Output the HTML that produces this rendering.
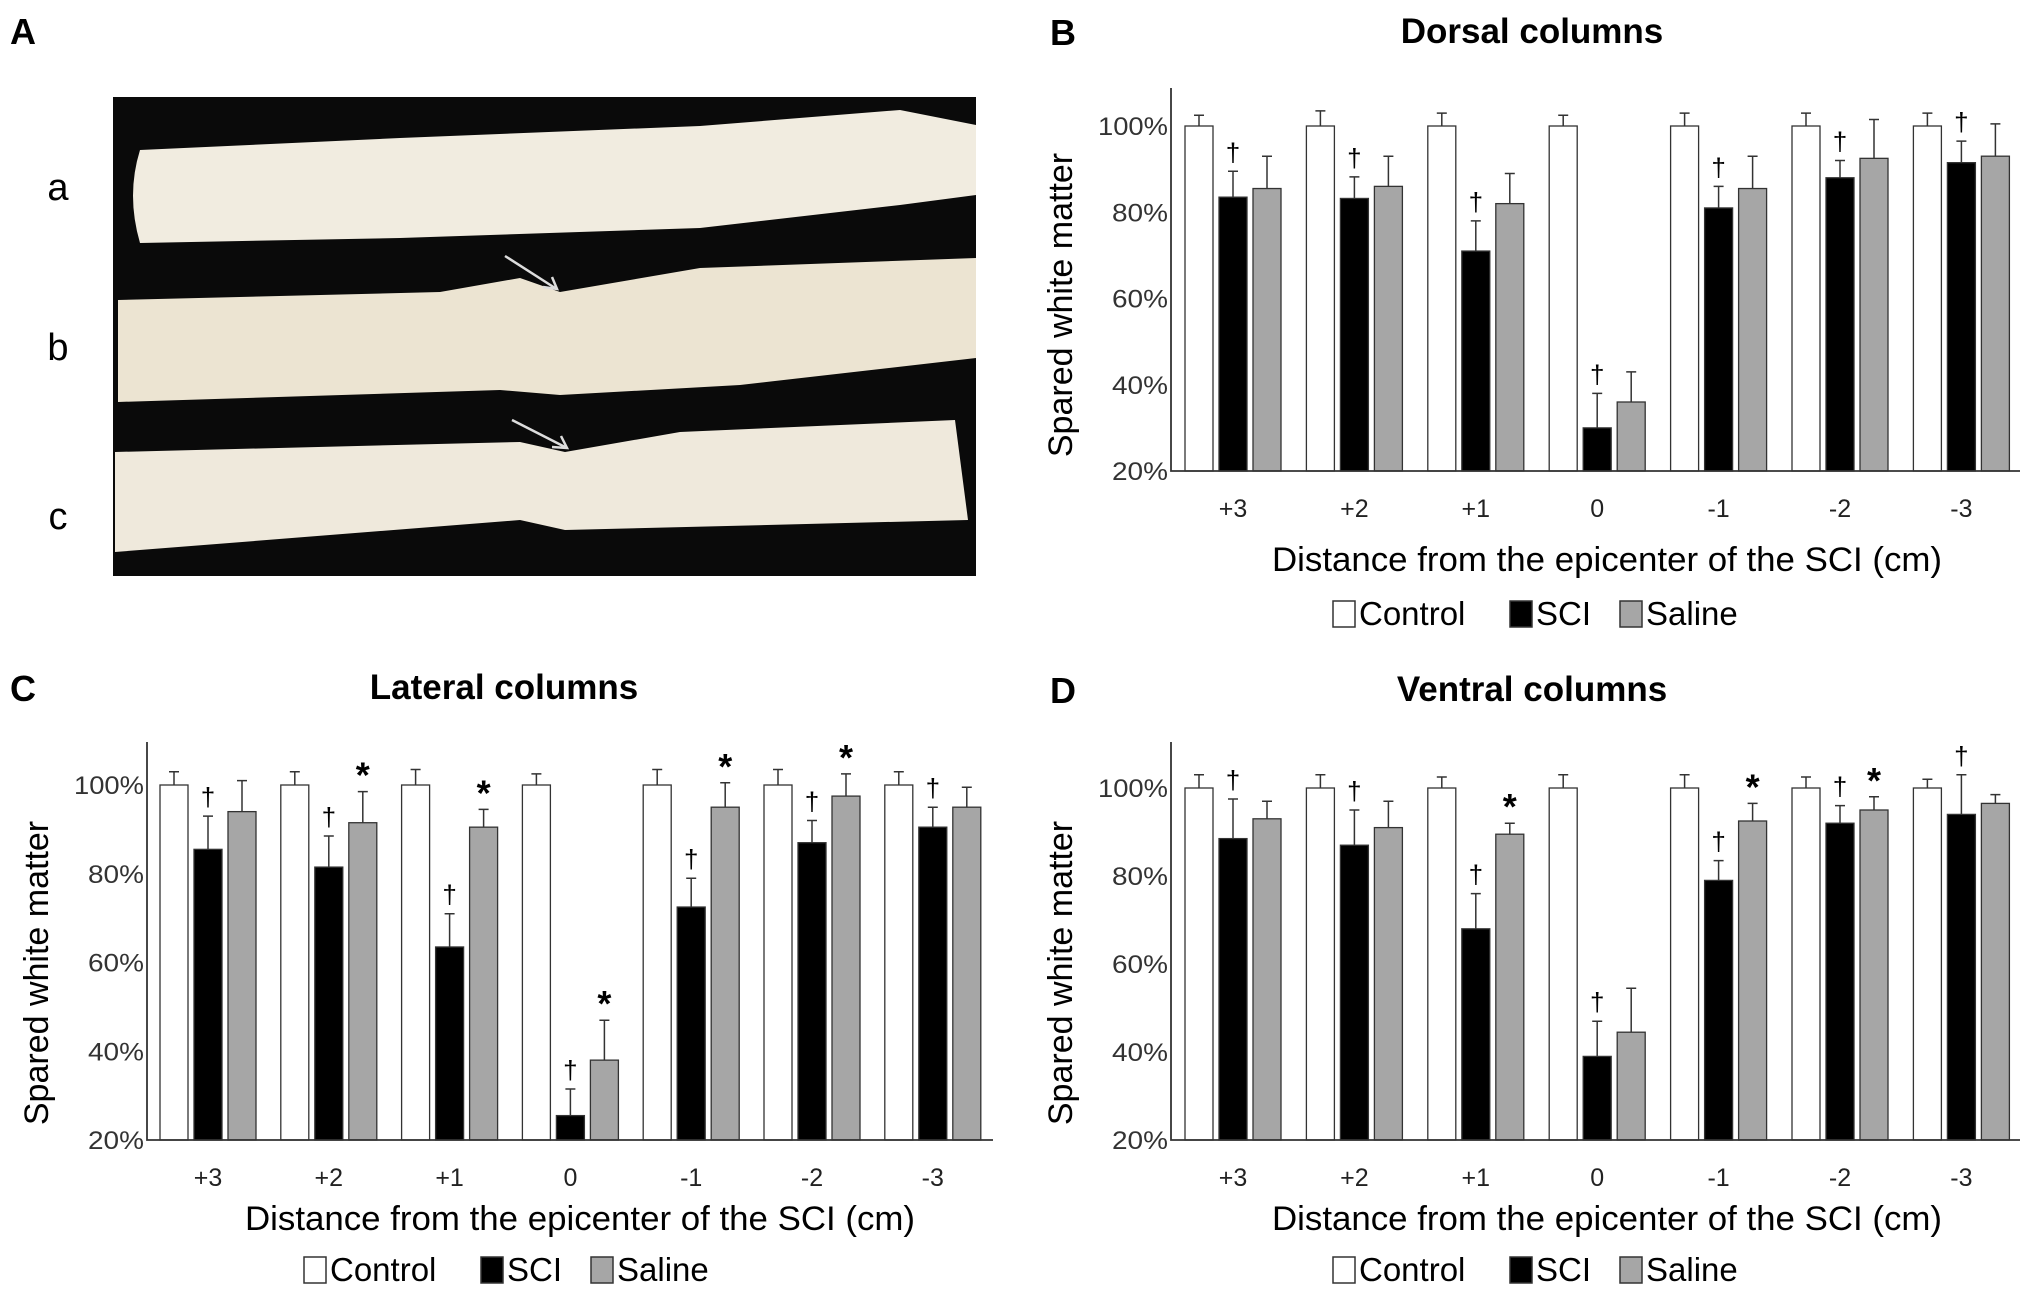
<!DOCTYPE html>
<html><head><meta charset="utf-8"><style>
html,body{margin:0;padding:0;background:#fff;}
svg{display:block;font-family:"Liberation Sans",sans-serif;}
</style></head><body>
<svg id="fig" width="2031" height="1292" viewBox="0 0 2031 1292">
<g>
<text x="10" y="44" font-size="36" font-weight="bold">A</text>
<rect x="113" y="97" width="863" height="479" fill="#0a0a0a"/>
<path d="M140 150 Q126 195 140 243 L400 238 L700 228 L900 205 L976 195 L976 125 L900 110 L700 126 L400 138 Z" fill="#f1ece0"/>
<path d="M118 300 L440 292 L520 278 L560 292 L700 268 L976 258 L976 358 L740 385 L560 395 L500 390 L118 402 Z" fill="#ece4d2"/>
<path d="M115 452 L520 442 L565 452 L680 432 L955 420 L968 520 L565 530 L520 520 L115 552 Z" fill="#efe9dc"/>
<line x1="505" y1="256" x2="555" y2="288" stroke="#ddd" stroke-width="2.5"/>
<polyline points="543,287 557,289 552,277" fill="none" stroke="#ddd" stroke-width="2.5"/>
<line x1="512" y1="420" x2="565" y2="447" stroke="#ddd" stroke-width="2.5"/>
<polyline points="552,447 567,448 561,436" fill="none" stroke="#ddd" stroke-width="2.5"/>
<text x="58" y="200" font-size="38" text-anchor="middle">a</text>
<text x="58" y="360" font-size="38" text-anchor="middle">b</text>
<text x="58" y="529" font-size="38" text-anchor="middle">c</text>
</g>
</svg>
<script>
const categories = ["+3","+2","+1","0","-1","-2","-3"];
const tickLabels = ["20%","40%","60%","80%","100%"];
const tickValues = [20,40,60,80,100];
const seriesNames = ["Control","SCI","Saline"];
const dorsalControl = [100,100,100,100,100,100,100];
const dorsalControlErr = [2.5,3.5,3,2.5,3,3,3];
const dorsalSCI = [83.5,83.2,71,30,81,88,91.5];
const dorsalSCIErr = [6,5,7,8,5,4,5];
const dorsalSaline = [85.5,86,82,36,85.5,92.5,93];
const dorsalSalineErr = [7.5,7,7,7,7.5,9,7.5];
const dorsalDagger = [1,1,1,1,1,1,1];
const dorsalStar = [0,0,0,0,0,0,0];
const lateralControl = [100,100,100,100,100,100,100];
const lateralControlErr = [3,3,3.5,2.5,3.5,3.5,3];
const lateralSCI = [85.5,81.5,63.5,25.5,72.5,87,90.5];
const lateralSCIErr = [7.5,7,7.5,6,6.5,5,4.5];
const lateralSaline = [94,91.5,90.5,38,95,97.5,95];
const lateralSalineErr = [7,7,4,9,5.5,5,4.5];
const lateralDagger = [1,1,1,1,1,1,1];
const lateralStar = [0,1,1,1,1,1,0];
const ventralControl = [100,100,100,100,100,100,100];
const ventralControlErr = [3,3,2.5,3,3,2.5,2];
const ventralSCI = [88.5,87,68,39,79,92,94];
const ventralSCIErr = [9,8,8,8,4.5,4,9];
const ventralSaline = [93,91,89.5,44.5,92.5,95,96.5];
const ventralSalineErr = [4,6,2.5,10,4,3,2];
const ventralDagger = [1,1,1,1,1,1,1];
const ventralStar = [0,0,1,0,1,1,0];

const NS = "http://www.w3.org/2000/svg";
const svg = document.getElementById('fig');
function mk(tag, attrs, parent, text){
  const e = document.createElementNS(NS, tag);
  for (const k in attrs) e.setAttribute(k, attrs[k]);
  if (text !== undefined) e.textContent = text;
  parent.appendChild(e);
  return e;
}
function panel(cfg){
  const g = mk('g', {}, svg);
  
  
  const ax = cfg.ax, base = cfg.base, top100 = cfg.top100, right = cfg.right;
  const y = v => base - (v - 20) / 80 * (base - top100);
  const gx = i => cfg.firstX + cfg.step * i;
  const bw = 28, off = 34;
  let t = mk('text', {x: cfg.letterX, y: cfg.titleY + 2, 'font-size': 36, 'font-weight': 'bold'}, g, cfg.letter);
  
  
  t = mk('text', {x: cfg.titleX, y: cfg.titleY, 'font-size': 35, 'font-weight': 'bold', 'text-anchor': 'middle'}, g, cfg.title);
  
  
  const data = [cfg.ctrl, cfg.sci, cfg.sal];
  const errs = [cfg.ctrlErr, cfg.sciErr, cfg.salErr];
  const fills = ['#fff', '#000', '#a6a6a6'];
  for (let i = 0; i < 7; i++) {
    for (let s = 0; s < 3; s++) {
      const cx = gx(i) + (s - 1) * off;
      const v = data[s][i], e = errs[s][i];
      const r = mk('rect', {x: cx - bw/2, y: y(v), width: bw, height: base - y(v), fill: fills[s], stroke: '#333', 'stroke-width': 1.3}, g);
      
      
      const ey = y(v + e);
      const l = mk('path', {d: `M${cx} ${y(v)} V${ey} M${cx-5} ${ey} H${cx+5}`, stroke: '#333', 'stroke-width': 1.5, fill: 'none'}, g);
      
      
    }
    if (cfg.dagger[i]) {
      const cx = gx(i);
      const d = mk('text', {x: cx, y: y(cfg.sci[i] + cfg.sciErr[i]) - 10, 'font-size': 26, 'text-anchor': 'middle'}, g, '†');
      
      
    }
    if (cfg.star[i]) {
      const cx = gx(i) + off;
      const d = mk('text', {x: cx, y: y(cfg.sal[i] + cfg.salErr[i]) - 4, 'font-size': 36, 'font-weight': 'bold', 'text-anchor': 'middle'}, g, '*');
      
      
    }
    const tl = mk('text', {x: gx(i), y: base + 46, 'font-size': 25, 'text-anchor': 'middle', fill: '#222'}, g, categories[i]);
    
    
  }
  const axes = mk('path', {d: `M${ax} ${cfg.axTop} V${base} H${right}`, stroke: '#333', 'stroke-width': 1.8, fill: 'none'}, g);
  
  
  for (let k = 0; k < tickValues.length; k++) {
    const tk = mk('text', {x: ax - 3, y: y(tickValues[k]) + 9, 'font-size': 25, 'text-anchor': 'end', fill: '#333', 'textLength': 70, 'lengthAdjust': 'spacingAndGlyphs'}, g, tickLabels[k]);
    if (tickLabels[k].length < 4) tk.setAttribute('textLength', 56);
    
    
  }
  const yl = mk('text', {x: 0, y: 0, 'font-size': 34, 'text-anchor': 'middle', transform: `translate(${cfg.ylabX},${cfg.ylabY}) rotate(-90)`}, g, 'Spared white matter');
  
  
  const xl = mk('text', {x: cfg.xlabX, y: cfg.xlabY, 'font-size': 34, 'text-anchor': 'middle', 'textLength': 670, 'lengthAdjust': 'spacingAndGlyphs'}, g, 'Distance from the epicenter of the SCI (cm)');
  
  
  const lx = [cfg.legX, cfg.legX + 177, cfg.legX + 287];
  for (let s = 0; s < 3; s++) {
    const le = mk('g', {}, g);
    
    
    mk('rect', {x: lx[s], y: cfg.legY - 24, width: 22, height: 26, fill: fills[s], stroke: '#333', 'stroke-width': 1.5}, le);
    mk('text', {x: lx[s] + 26, y: cfg.legY, 'font-size': 33}, le, seriesNames[s]);
  }
}
panel({name:'panel-b-dorsal', letter:'B', letterX:1050, title:'Dorsal columns', titleX:1532, titleY:43,
  ax:1171, axTop:88, base:471, top100:126, right:2020, firstX:1233, step:121.4,
  ctrl:dorsalControl, ctrlErr:dorsalControlErr, sci:dorsalSCI, sciErr:dorsalSCIErr, sal:dorsalSaline, salErr:dorsalSalineErr,
  dagger:dorsalDagger, star:dorsalStar, ylabX:1072, ylabY:305, xlabX:1607, xlabY:571, legX:1333, legY:625});
panel({name:'panel-c-lateral', letter:'C', letterX:10, title:'Lateral columns', titleX:504, titleY:699,
  ax:147, axTop:742, base:1140, top100:785, right:993, firstX:208, step:120.8,
  ctrl:lateralControl, ctrlErr:lateralControlErr, sci:lateralSCI, sciErr:lateralSCIErr, sal:lateralSaline, salErr:lateralSalineErr,
  dagger:lateralDagger, star:lateralStar, ylabX:48, ylabY:973, xlabX:580, xlabY:1230, legX:304, legY:1281});
panel({name:'panel-d-ventral', letter:'D', letterX:1050, title:'Ventral columns', titleX:1532, titleY:701,
  ax:1171, axTop:742, base:1140, top100:788, right:2020, firstX:1233, step:121.4,
  ctrl:ventralControl, ctrlErr:ventralControlErr, sci:ventralSCI, sciErr:ventralSCIErr, sal:ventralSaline, salErr:ventralSalineErr,
  dagger:ventralDagger, star:ventralStar, ylabX:1072, ylabY:973, xlabX:1607, xlabY:1230, legX:1333, legY:1281});
</script>
</body></html>
